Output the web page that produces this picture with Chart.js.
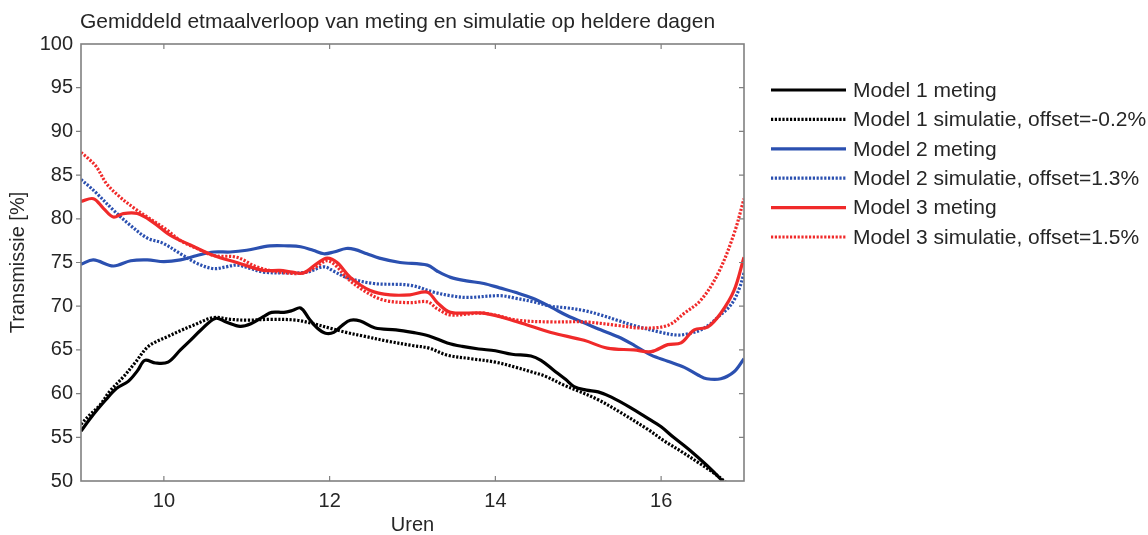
<!DOCTYPE html>
<html>
<head>
<meta charset="utf-8">
<script src="https://cdn.jsdelivr.net/npm/chart.js@4/dist/chart.umd.min.js"></script>
<style>
  html, body { margin: 0; padding: 0; background: #fff; }
  #wrap { width: 1148px; height: 535px; position: relative; }
</style>
</head>
<body>
<div id="wrap"><canvas id="c" width="1148" height="535"></canvas></div>
<script>
// Hours (x) and transmission values (%) per series
const m1MetingUren = [9.0,9.1,9.2,9.3,9.43,9.57,9.68,9.77,9.9,10.05,10.2,10.32,10.45,10.62,10.75,10.92,11.05,11.2,11.3,11.45,11.55,11.65,11.75,11.85,11.95,12.05,12.15,12.25,12.37,12.55,12.8,13.0,13.2,13.42,13.6,13.8,14.0,14.2,14.43,14.55,14.7,14.85,14.95,15.1,15.24,15.4,15.63,15.85,16.0,16.15,16.35,16.55,16.72,16.78];
const m1Meting     = [55.7,57.0,58.2,59.3,60.6,61.4,62.6,63.8,63.5,63.6,65.0,66.1,67.3,68.6,68.2,67.7,68.0,68.8,69.3,69.3,69.5,69.8,68.6,67.5,66.9,67.0,67.8,68.4,68.3,67.5,67.3,67.0,66.6,65.8,65.4,65.1,64.9,64.5,64.3,63.8,62.7,61.6,60.8,60.4,60.2,59.6,58.4,57.1,56.2,55.0,53.5,51.8,50.2,49.5];

const m1SimUren = [9.0,9.1,9.23,9.35,9.51,9.65,9.8,9.92,10.04,10.2,10.35,10.6,10.8,11.0,11.3,11.6,11.8,12.0,12.2,12.4,12.7,13.0,13.2,13.42,13.7,14.0,14.25,14.43,14.6,14.82,15.0,15.24,15.5,15.84,16.05,16.24,16.45,16.64,16.8];
const m1Sim     = [56.5,57.5,58.7,60.3,61.9,63.5,65.3,66.0,66.5,67.2,67.8,68.7,68.5,68.4,68.5,68.4,68.0,67.5,67.0,66.6,66.0,65.5,65.2,64.4,64.0,63.6,63.0,62.5,62.0,61.0,60.3,59.3,57.9,55.9,54.5,53.4,52.1,50.9,49.7];

const m2MetingUren = [9.0,9.15,9.39,9.6,9.8,10.0,10.2,10.4,10.6,10.8,11.0,11.28,11.5,11.65,11.8,11.93,12.05,12.2,12.3,12.45,12.6,12.85,13.18,13.3,13.46,13.65,13.86,14.05,14.27,14.45,14.67,14.87,15.07,15.27,15.48,15.68,15.88,16.08,16.28,16.45,16.55,16.72,16.88,17.0];
const m2Meting     = [74.8,75.3,74.6,75.2,75.3,75.1,75.3,75.8,76.2,76.2,76.4,76.9,76.9,76.8,76.4,76.0,76.2,76.6,76.5,76.0,75.5,75.0,74.7,74.0,73.3,72.9,72.6,72.1,71.5,70.9,69.9,68.9,68.1,67.3,66.5,65.5,64.4,63.7,63.0,62.1,61.7,61.7,62.5,64.0];

const m2SimUren = [9.0,9.1,9.19,9.39,9.59,9.8,9.99,10.2,10.4,10.6,10.75,10.88,11.05,11.2,11.49,11.73,11.93,12.05,12.2,12.53,12.97,13.26,13.46,13.66,14.06,14.25,14.46,14.67,14.87,15.07,15.27,15.47,15.67,16.0,16.2,16.35,16.48,16.6,16.69,16.8,16.88,16.95,17.0];
const m2Sim     = [84.5,83.7,82.9,81.0,79.3,77.8,77.2,76.0,74.9,74.3,74.5,74.7,74.3,73.9,73.8,73.9,74.5,74.0,73.3,72.6,72.4,71.6,71.2,71.0,71.2,70.9,70.5,70.0,69.8,69.5,69.0,68.4,67.8,67.0,66.7,66.9,67.3,68.0,68.8,69.7,70.7,72.2,73.8];

const m3MetingUren = [9.0,9.15,9.27,9.39,9.51,9.68,9.87,10.08,10.32,10.6,10.88,11.2,11.4,11.55,11.68,11.85,11.97,12.09,12.25,12.49,12.73,12.97,13.18,13.3,13.46,13.86,14.27,14.67,15.07,15.35,15.67,15.88,16.08,16.24,16.4,16.56,16.72,16.88,17.0];
const m3Meting     = [82.0,82.3,81.2,80.2,80.6,80.6,79.6,78.1,77.0,75.8,75.0,74.1,74.1,73.9,73.8,74.9,75.5,75.0,73.3,71.8,71.3,71.3,71.6,70.4,69.3,69.2,68.2,67.0,66.1,65.2,65.0,64.8,65.6,65.8,67.3,67.6,69.2,71.8,75.6];

const m3SimUren = [9.0,9.1,9.19,9.31,9.47,9.63,9.8,10.04,10.2,10.4,10.6,10.88,11.12,11.4,11.68,11.85,11.97,12.08,12.2,12.41,12.65,12.97,13.18,13.3,13.46,13.86,14.27,14.67,15.07,15.48,15.76,16.08,16.28,16.48,16.69,16.88,17.0];
const m3Sim     = [87.6,86.8,85.9,84.0,82.5,81.3,80.2,78.7,77.5,76.6,75.8,75.6,74.5,73.9,73.8,74.6,75.2,74.6,73.3,71.8,70.7,70.4,70.5,69.7,69.0,69.2,68.4,68.2,68.2,67.8,67.5,67.8,69.2,70.7,73.8,78.3,82.3];

const seriesLabels = [
  'Model 1 meting',
  'Model 1 simulatie, offset=-0.2%',
  'Model 2 meting',
  'Model 2 simulatie, offset=1.3%',
  'Model 3 meting',
  'Model 3 simulatie, offset=1.5%'
];
const xTickValues = [10, 12, 14, 16];
const titleText = 'Gemiddeld etmaalverloop van meting en simulatie op heldere dagen';
const xTitle = 'Uren';
const yTitle = 'Transmissie [%]';

const FONT = '"Liberation Sans", Arial, Helvetica, sans-serif';
const TEXT = '#262626';
const AXIS = '#808080';
const BLACK = '#000000', BLUE = '#2b50b0', RED = '#f02a2a';
const DOT = [2.2, 1.6];

const pts = (xs, ys) => xs.map((x, i) => ({ x, y: ys[i] }));

function line(label, data, color, dotted, order) {
  return {
    label, data,
    borderColor: color,
    backgroundColor: color,
    borderWidth: 3.2,
    borderDash: dotted ? DOT : [],
    pointRadius: 0,
    tension: 0.35,
    fill: false,
    order
  };
}

const datasets = [
  line(seriesLabels[0], pts(m1MetingUren, m1Meting), BLACK, false, 5),
  line(seriesLabels[1], pts(m1SimUren, m1Sim), BLACK, true, 4),
  line(seriesLabels[2], pts(m2MetingUren, m2Meting), BLUE, false, 3),
  line(seriesLabels[3], pts(m2SimUren, m2Sim), BLUE, true, 2),
  line(seriesLabels[4], pts(m3MetingUren, m3Meting), RED, false, 1),
  line(seriesLabels[5], pts(m3SimUren, m3Sim), RED, true, 0)
];

// Box, tick marks, titles and legend drawn around the plot area
const framePlugin = {
  id: 'frame',
  afterDraw(chart) {
    const { ctx, chartArea: a, scales } = chart;
    const xs = scales.x, ys = scales.y;
    ctx.save();
    ctx.strokeStyle = AXIS;
    ctx.lineWidth = 1.6;
    ctx.strokeRect(a.left, a.top, a.right - a.left, a.bottom - a.top);
    ctx.lineWidth = 1.2;
    ctx.beginPath();
    xTickValues.forEach(v => {
      const px = xs.getPixelForValue(v);
      ctx.moveTo(px, a.bottom); ctx.lineTo(px, a.bottom - 5);
      ctx.moveTo(px, a.top); ctx.lineTo(px, a.top + 5);
    });
    ys.ticks.forEach(t => {
      if (t.value <= ys.min || t.value >= ys.max) return;
      const py = ys.getPixelForValue(t.value);
      ctx.moveTo(a.left, py); ctx.lineTo(a.left - 5, py);
      ctx.moveTo(a.right, py); ctx.lineTo(a.right - 5, py);
    });
    ctx.stroke();

    ctx.fillStyle = TEXT;
    ctx.textBaseline = 'middle';
    ctx.textAlign = 'left';
    ctx.font = '21px ' + FONT;
    ctx.fillText(titleText, 80, 22);

    ctx.font = '20px ' + FONT;
    ctx.textAlign = 'center';
    ctx.fillText(xTitle, (a.left + a.right) / 2, 525);
    ctx.save();
    ctx.translate(18, (a.top + a.bottom) / 2);
    ctx.rotate(-Math.PI / 2);
    ctx.fillText(yTitle, 0, 0);
    ctx.restore();

    // legend
    ctx.font = '21px ' + FONT;
    ctx.textAlign = 'left';
    chart.data.datasets.forEach((ds, i) => {
      const y = 90 + i * 29.4;
      ctx.strokeStyle = ds.borderColor;
      ctx.lineWidth = ds.borderWidth;
      ctx.setLineDash(ds.borderDash);
      ctx.beginPath();
      ctx.moveTo(771, y); ctx.lineTo(846, y);
      ctx.stroke();
      ctx.setLineDash([]);
      ctx.fillStyle = TEXT;
      ctx.fillText(ds.label, 853, y + 1);
    });
    ctx.restore();
  }
};

new Chart(document.getElementById('c'), {
  type: 'line',
  data: { datasets },
  options: {
    responsive: false,
    animation: false,
    layout: { padding: { top: 44, right: 404, left: 0, bottom: 0 } },
    plugins: { legend: { display: false }, title: { display: false }, tooltip: { enabled: false } },
    scales: {
      x: {
        type: 'linear', min: 9, max: 17,
        afterBuildTicks: s => { s.ticks = xTickValues.map(v => ({ value: v })); },
        afterFit: s => { s.height = 54; },
        grid: { display: false, drawTicks: false },
        border: { display: false },
        ticks: { padding: 8, color: TEXT, font: { family: FONT, size: 20 } }
      },
      y: {
        min: 50, max: 100,
        afterFit: s => { s.width = 81; },
        grid: { display: false, drawTicks: false },
        border: { display: false },
        ticks: { stepSize: 5, padding: 8, color: TEXT, font: { family: FONT, size: 20 } }
      }
    }
  },
  plugins: [framePlugin]
});
</script>
</body>
</html>
